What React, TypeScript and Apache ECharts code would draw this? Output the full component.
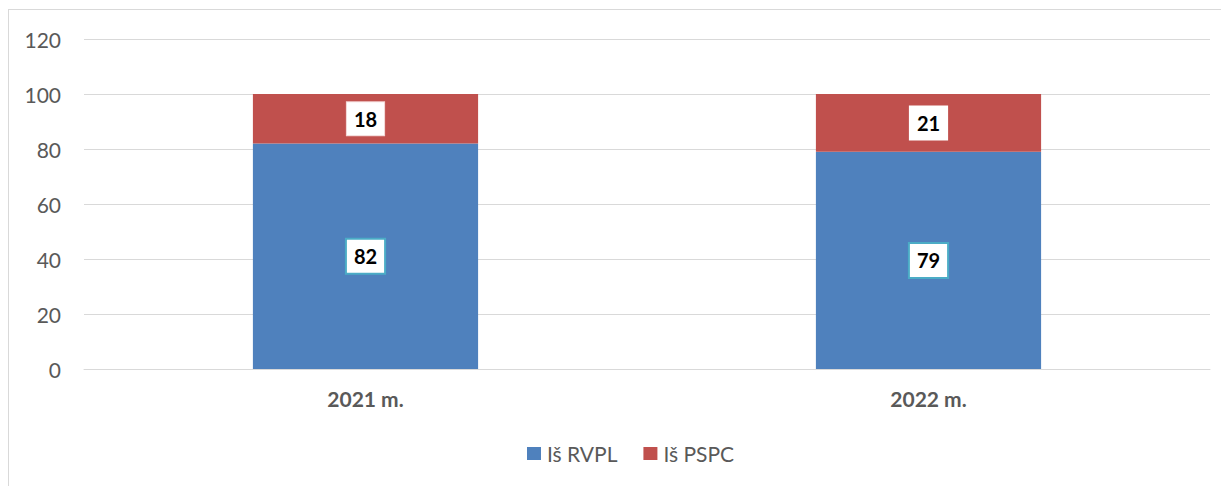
import React, { useEffect, useRef } from "react";
import * as echarts from "echarts";

const categories = ["2021 m.", "2022 m."];
const rvpl = [82, 79];
const pspc = [18, 21];
const seriesNames = ["Iš RVPL", "Iš PSPC"];
const yTicks = { min: 0, max: 120, interval: 20 };

const FONT = "Lato, 'Open Sans', sans-serif";

export default function App() {
  const ref = useRef<HTMLDivElement>(null);
  useEffect(() => {
    if (!ref.current) return;
    const chart = echarts.init(ref.current, undefined, { renderer: "svg" });
    const labelBase = {
      show: true,
      position: "inside",
      color: "#000000",
      fontFamily: FONT,
      fontWeight: "bold",
      fontSize: 20,
      backgroundColor: "#ffffff",
      padding: [7, 7, 6, 7],
    };
    chart.setOption({
      animation: false,
      grid: { left: 76, right: 19, top: 31, bottom: 117, containLabel: false },
      legend: {
        left: 519,
        top: 435,
        padding: 0,
        itemWidth: 14,
        itemHeight: 13,
        itemGap: 26,
        icon: "rect",
        textStyle: { color: "#595959", fontSize: 21, fontFamily: FONT, lineHeight: 20, padding: [0, 0, 0, 1] },
        data: seriesNames,
      },
      xAxis: {
        type: "category",
        data: categories,
        axisLine: { lineStyle: { color: "#d9d9d9", width: 1 } },
        axisTick: { show: false },
        axisLabel: { color: "#595959", fontSize: 21, fontWeight: "bold", fontFamily: FONT, margin: 19 },
      },
      yAxis: {
        type: "value",
        min: yTicks.min,
        max: yTicks.max,
        interval: yTicks.interval,
        axisLine: { show: false },
        axisTick: { show: false },
        splitLine: { lineStyle: { color: "#d9d9d9", width: 1 } },
        axisLabel: { color: "#595959", fontSize: 21, fontFamily: FONT, margin: 23 },
      },
      series: [
        {
          name: seriesNames[0],
          type: "bar",
          stack: "total",
          barWidth: "40%",
          itemStyle: { color: "#4f81bd" },
          data: rvpl.map((v) => ({
            value: v,
            label: { ...labelBase, borderColor: "#4bacc6", borderWidth: 2 },
          })),
        },
        {
          name: seriesNames[1],
          type: "bar",
          stack: "total",
          barWidth: "40%",
          itemStyle: { color: "#c0504d" },
          data: pspc.map((v, i) => ({
            value: v,
            label: { ...labelBase, borderColor: i === 0 ? "#f2d4d3" : "#ffffff", borderWidth: 1 },
          })),
        },
      ],
    });
    return () => chart.dispose();
  }, []);

  return (
    <div style={{ position: "relative", width: 1221, height: 478, overflow: "hidden", background: "#ffffff" }}>
      <div
        style={{
          position: "absolute",
          left: 0,
          top: 1,
          width: 1400,
          height: 700,
          border: "1px solid #d9d9d9",
          boxSizing: "border-box",
        }}
      />
      <div ref={ref} style={{ position: "absolute", left: 0, top: 0, width: 1221, height: 478 }} />
    </div>
  );
}
